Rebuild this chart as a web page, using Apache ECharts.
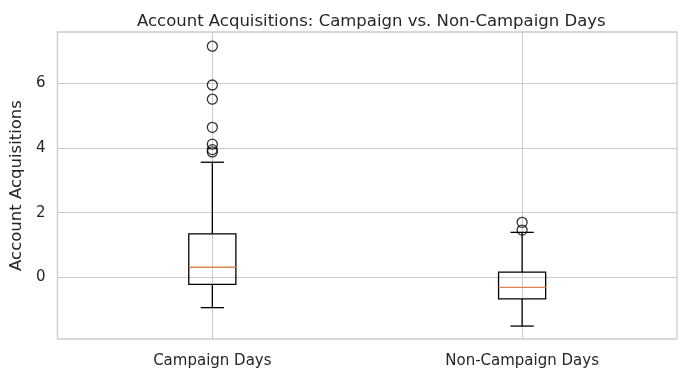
<!DOCTYPE html>
<html>
<head>
<meta charset="utf-8">
<script src="https://cdn.jsdelivr.net/npm/echarts@6/dist/echarts.min.js"></script>
<style>
  html, body { margin: 0; padding: 0; background: #fff; }
  #box { width: 686px; height: 378px; }
</style>
</head>
<body>
<div id="box"></div>
<script>
// data
var categories = ['Campaign Days', 'Non-Campaign Days'];
// [lower whisker, Q1, median, Q3, upper whisker]
var campaignStats = [-0.94, -0.22, 0.31, 1.34, 3.56];
var nonCampaignStats = [-1.51, -0.67, -0.31, 0.16, 1.39];
var campaignOutliers = [7.15, 5.95, 5.51, 4.64, 4.12, 3.95, 3.88];
var nonCampaignOutliers = [1.70, 1.46];
var yTicks = [0, 2, 4, 6];

var textColor = '#262626';
var gridColor = '#cccccc';

var boxData = [
    [1].concat(campaignStats),
    [2].concat(nonCampaignStats)
];
var outlierData = [];
campaignOutliers.forEach(function (v) { outlierData.push([1, v]); });
nonCampaignOutliers.forEach(function (v) { outlierData.push([2, v]); });

function renderBox(params, api) {
    var x = api.value(0);
    var lo = api.coord([x, api.value(1)]);
    var q1 = api.coord([x, api.value(2)]);
    var med = api.coord([x, api.value(3)]);
    var q3 = api.coord([x, api.value(4)]);
    var hi = api.coord([x, api.value(5)]);
    var halfBox = api.size([0.152, 0])[0] / 2;
    var halfCap = api.size([0.075, 0])[0] / 2;
    var cx = lo[0];
    var line = { stroke: '#000', lineWidth: 1.3, fill: null };
    return {
        type: 'group',
        children: [
            { type: 'line', shape: { x1: cx, y1: q1[1], x2: cx, y2: lo[1] }, style: line },
            { type: 'line', shape: { x1: cx, y1: q3[1], x2: cx, y2: hi[1] }, style: line },
            { type: 'line', shape: { x1: cx - halfCap, y1: lo[1], x2: cx + halfCap, y2: lo[1] }, style: line },
            { type: 'line', shape: { x1: cx - halfCap, y1: hi[1], x2: cx + halfCap, y2: hi[1] }, style: line },
            { type: 'rect', shape: { x: cx - halfBox, y: q3[1], width: halfBox * 2, height: q1[1] - q3[1] }, style: line },
            { type: 'line', shape: { x1: cx - halfBox, y1: med[1], x2: cx + halfBox, y2: med[1] }, style: { stroke: '#dd8452', lineWidth: 1.3 } }
        ]
    };
}

var myChart = echarts.init(document.getElementById('box'));
var option = {
    backgroundColor: '#ffffff',
    animation: false,
    title: {
        text: 'Account Acquisitions: Campaign vs. Non-Campaign Days',
        left: 132,
        top: 8,
        textStyle: { color: textColor, fontSize: 16.5, fontWeight: 'normal', fontFamily: 'DejaVu Sans' }
    },
    grid: {
        left: 57, right: 9, top: 32, bottom: 39,
        show: true, borderColor: gridColor, borderWidth: 1.3, backgroundColor: 'transparent'
    },
    xAxis: {
        type: 'value',
        min: 0.5,
        max: 2.5,
        axisLine: { show: false },
        axisTick: { show: false, customValues: [1, 2] },
        axisLabel: {
            customValues: [1, 2],
            color: textColor, fontSize: 15, fontFamily: 'DejaVu Sans', margin: 15,
            formatter: function (v) { return categories[Math.round(v) - 1]; }
        },
        splitLine: { show: true, lineStyle: { color: gridColor, width: 1.1 } }
    },
    yAxis: {
        type: 'value',
        min: -1.91,
        max: 7.59,
        name: 'Account Acquisitions',
        nameLocation: 'middle',
        nameGap: 28,
        nameTextStyle: { color: textColor, fontSize: 16.5, fontFamily: 'DejaVu Sans' },
        axisLine: { show: false },
        axisTick: { show: false, customValues: yTicks },
        axisLabel: { customValues: yTicks, color: textColor, fontSize: 15, fontFamily: 'DejaVu Sans', margin: 12 },
        splitLine: { show: true, lineStyle: { color: gridColor, width: 1.1 } }
    },
    series: [
        {
            type: 'custom',
            renderItem: renderBox,
            encode: { x: 0, y: [1, 2, 3, 4, 5] },
            data: boxData,
            z: 3
        },
        {
            type: 'scatter',
            symbol: 'circle',
            symbolSize: 10,
            itemStyle: { color: 'rgba(0,0,0,0)', borderColor: '#000', borderWidth: 1.3 },
            data: outlierData,
            z: 4
        }
    ]
};

option && myChart.setOption(option);
</script>
</body>
</html>
